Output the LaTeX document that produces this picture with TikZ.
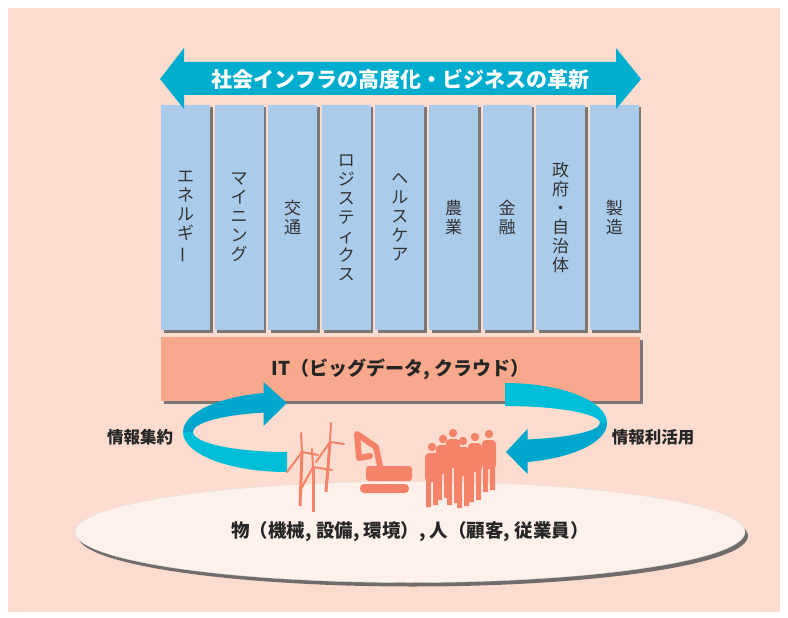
\documentclass[tikz,border=0pt]{standalone}
\usepackage{fontspec}
\setmainfont{Noto Sans CJK JP}
\usetikzlibrary{shapes.geometric,shadows}
\pgfdeclarelayer{edgelayer}
\pgfdeclarelayer{nodelayer}
\pgfsetlayers{edgelayer,nodelayer,main}
\definecolor{panel}{HTML}{FBDCCF}
\definecolor{colblue}{HTML}{AACBEA}
\definecolor{itbar}{HTML}{F8A98D}
\definecolor{cyanarr}{HTML}{00ADCF}
\definecolor{cyandark}{HTML}{00A6CB}
\definecolor{cyanlight}{HTML}{00BDD8}
\definecolor{iconorange}{HTML}{F4836A}
\definecolor{egg}{HTML}{FEF1EC}
\definecolor{txt}{HTML}{333333}
\tikzset{font=\fontsize{17}{19}\selectfont}
\tikzstyle{none}=[inner sep=0pt]
\tikzstyle{col}=[rectangle,fill=colblue,minimum width=49pt,minimum height=225pt,inner sep=0pt,align=center,text=txt,font=\fontsize{17}{19}\selectfont,drop shadow={shadow xshift=2.5pt,shadow yshift=-2.5pt,fill=black!60,opacity=0.85}]
\tikzstyle{bar}=[rectangle,fill=itbar,minimum width=479pt,minimum height=64pt,inner sep=0pt,text=black!85,font=\bfseries\fontsize{19}{22}\selectfont,drop shadow={shadow xshift=2.5pt,shadow yshift=-2.5pt,fill=black!60,opacity=0.85}]
\tikzstyle{ground}=[ellipse,fill=egg,draw=black!12,minimum width=670pt,minimum height=101pt,inner sep=0pt,text=black!85,font=\bfseries\fontsize{18.5}{22}\selectfont,drop shadow={shadow xshift=3pt,shadow yshift=-4pt,fill=black!65,opacity=0.85}]
\tikzstyle{lbl}=[inner sep=0pt,text=black!85,font=\bfseries\fontsize{16.5}{20}\selectfont]
\tikzstyle{title}=[inner sep=0pt,text=white,font=\bfseries\fontsize{21}{24}\selectfont]
\tikzstyle{icon}=[fill=iconorange]
\tikzstyle{blade}=[draw=iconorange,line width=2pt,line cap=round]
\tikzstyle{pole}=[draw=iconorange,line width=3pt]

\begin{document}
\begin{tikzpicture}[x=1pt,y=-1pt]
	\useasboundingbox (0,0) rectangle (788,618);
	\begin{pgfonlayer}{edgelayer}
		\fill[white] (0,0) rectangle (788,618);
		\fill[panel] (8,8) rectangle (780,612);
	\end{pgfonlayer}
	\begin{pgfonlayer}{nodelayer}
		\node [style=col] (0) at (185.5, 217.5) {エ\\ネ\\ル\\ギ\\\rotatebox[origin=c]{90}{ー}};
		\node [style=col] (1) at (239.1, 217.5) {マ\\イ\\ニ\\ン\\グ};
		\node [style=col] (2) at (292.7, 217.5) {交\\通};
		\node [style=col] (3) at (346.3, 217.5) {ロ\\ジ\\ス\\テ\\ィ\\ク\\ス};
		\node [style=col] (4) at (399.9, 217.5) {ヘ\\ル\\ス\\ケ\\ア};
		\node [style=col] (5) at (453.5, 217.5) {農\\業};
		\node [style=col] (6) at (507.1, 217.5) {金\\融};
		\node [style=col] (7) at (560.7, 217.5) {政\\府\\・\\自\\治\\体};
		\node [style=col] (8) at (614.3, 217.5) {製\\造};
		\node [style=bar] (9) at (400.5, 369) {\raisebox{-2pt}{IT（ビッグデータ, クラウド）}};
		\node [style=ground] (10) at (410, 532) {\raisebox{-4pt}{物（機械, 設備, 環境）, 人（顧客, 従業員）}};
		\node [style=lbl] (11) at (140, 437) {情報集約};
		\node [style=lbl] (12) at (653, 437) {情報利活用};
	\end{pgfonlayer}
	\fill[cyanarr] (160,79) -- (184,48) -- (184,62) -- (616,62) -- (616,48) -- (641,79) -- (616,109) -- (616,95) -- (184,95) -- (184,109) -- cycle;
	\node [style=title] (13) at (400.5, 79) {社会インフラの高度化・ビジネスの革新};
	\fill[cyandark] (264,393) arc[start angle=257.2,end angle=180,x radius=104,y radius=40] -- (193,432) arc[start angle=180,end angle=255.8,x radius=94,y radius=20] -- cycle;
	\fill[cyanlight] (183,432) arc[start angle=180,end angle=90,x radius=104,y radius=40] -- (287,452) arc[start angle=90,end angle=180,x radius=94,y radius=20] -- cycle;
	\fill[cyandark] (263.5,382) -- (287,403) -- (263.5,426) -- cycle;
	\fill[cyanlight] (505,383) arc[start angle=270,end angle=360,x radius=102,y radius=40] -- (600,423) arc[start angle=0,end angle=-90,x radius=95,y radius=17] -- cycle;
	\fill[cyandark] (607,423) arc[start angle=0,end angle=77.5,x radius=102,y radius=40] -- (527,439.5) arc[start angle=76.6,end angle=0,x radius=95,y radius=17] -- cycle;
	\fill[cyandark] (527.5,429) -- (506,452) -- (527.5,474) -- cycle;
	\draw[style=pole] (302,452) -- (300,506);
	\draw[style=blade] (302,452) -- (301,433) (302,452) -- (287,472) (302,452) -- (318,455);
	\draw[style=pole] (330,442) -- (326,492);
	\draw[style=blade] (330,442) -- (331,423) (330,442) -- (316,462) (330,442) -- (344,444);
	\draw[style=pole] (313,467) -- (313,512);
	\draw[style=blade] (313,467) -- (312,449) (313,467) -- (301,489) (313,467) -- (332,470);
	\draw[iconorange,line width=6pt,line join=round,line cap=round] (359,458) -- (357,434) -- (376,447) -- (380,466) (359,458) -- (370,456);
	\fill[style=icon,rounded corners=3pt] (366,466) rectangle (412,481);
	\fill[style=icon,rounded corners=4pt] (360,484) rectangle (409,493);
	\fill[style=icon] (432,447) circle (4.2);
	\fill[style=icon,rounded corners=4pt] (425,453) rectangle (439,482);
	\fill[style=icon] (426,478) rectangle (431,507) (433,478) rectangle (438,505);
	\fill[style=icon] (443,439) circle (4.2);
	\fill[style=icon,rounded corners=4pt] (436,445) rectangle (450,474);
	\fill[style=icon] (437,470) rectangle (442,500) (444,470) rectangle (449,498);
	\fill[style=icon] (453,433) circle (4.2);
	\fill[style=icon,rounded corners=4pt] (446,439) rectangle (460,468);
	\fill[style=icon] (447,464) rectangle (452,505) (454,464) rectangle (459,503);
	\fill[style=icon] (463,441) circle (4.2);
	\fill[style=icon,rounded corners=4pt] (456,447) rectangle (470,476);
	\fill[style=icon] (457,472) rectangle (462,508) (464,472) rectangle (469,506);
	\fill[style=icon] (475,437) circle (4.2);
	\fill[style=icon,rounded corners=4pt] (468,443) rectangle (482,472);
	\fill[style=icon] (469,468) rectangle (474,502) (476,468) rectangle (481,500);
	\fill[style=icon] (489,434) circle (4.2);
	\fill[style=icon,rounded corners=4pt] (482,440) rectangle (496,469);
	\fill[style=icon] (483,465) rectangle (488,492) (490,465) rectangle (495,490);
\end{tikzpicture}
\end{document}
